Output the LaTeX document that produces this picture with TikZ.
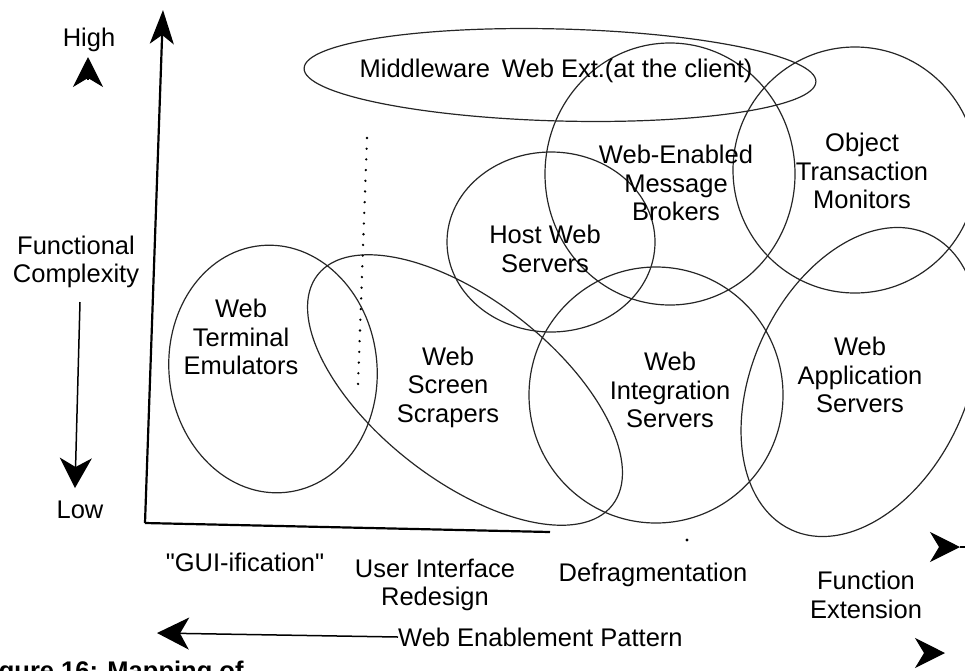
\documentclass[tikz,border=0pt]{standalone}
\usepackage{fontspec}
\setmainfont{Liberation Sans}
\usetikzlibrary{shapes.geometric,arrows.meta}
% straight double quote glyph, bypassing the TeX ligature mapping
\newcommand{\sq}{\XeTeXglyph\XeTeXcharglyph34\relax}
\begin{document}
\begin{tikzpicture}[x=1pt,y=-1pt,
  blob/.style n args={2}{draw=black!85, ellipse, line width=1.2pt, inner sep=0pt,
    minimum width=#1, minimum height=#2},
  lbl/.style={font=\fontsize{25.5}{28.5}\selectfont, align=center, inner sep=0pt},
  axis/.style={line width=2.2pt, draw=black},
  bigtip/.style={-{Stealth[length=30pt,width=30pt,inset=9pt]}, line width=1.2pt}
]
\useasboundingbox (0,0) rectangle (965,670);
\clip (0,0) rectangle (965,670);

% ---- axes ----
\coordinate (org) at (145,523);
\coordinate (ytop) at (163,10);
\coordinate (xend) at (550,532);
\draw[axis, -{Stealth[length=34pt,width=24pt,inset=9pt]}] (org) -- (ytop);
\draw[axis] (org) -- (xend);
\coordinate (xa) at (945,547);
\coordinate (xb) at (960,547);
\coordinate (xc) at (965,547);
\draw[bigtip] (xa) -- (xb);
\draw[line width=1.5pt] (xb) -- (xc);
\fill (687,540) circle (1.6pt);

% ---- vertical scale on the left ----
\node[lbl] (high) at (89,40) {High};
\coordinate (hA) at (88,80);
\coordinate (hB) at (88,57);
\draw[bigtip] (hA) -- (hB);
\node[lbl] (fc) at (76,262) {Functional\\Complexity};
\coordinate (lowtip) at (75,488);
\coordinate (lowtop) at (80,302);
\draw[line width=1.5pt, -{Stealth[length=30pt,width=32pt,inset=9pt]}] (lowtop) -- (lowtip);
\node[lbl] (low) at (80,510) {Low};

% ---- overlapping regions ----
\node[blob={512}{92}, rotate=-1.5] (mw)  at (560,75) {};
\node[blob={208}{248}, rotate=6] (wte) at (273,369) {};
\node[blob={374}{180}, rotate=-38] (wss) at (465,390) {};
\node[blob={208}{180}] (hws) at (551,242) {};
\node[blob={250}{262}] (wemb) at (670,174) {};
\node[blob={244}{246}] (otm) at (855,170) {};
\node[blob={254}{256}] (wis) at (656,395) {};
\node[blob={326}{214}, rotate=65] (was) at (860,382) {};

% dotted divider
\coordinate (dA) at (367,138);
\coordinate (dB) at (358,385);
\draw[line width=2.6pt, line cap=round, dash pattern=on 0pt off 10.7pt] (dA) -- (dB);

% ---- region labels ----
\node[lbl] (tmw) at (556,71) {Middleware\hspace{12pt}Web Ext.(at the client)};
\node[lbl] (twte) at (241,337) {Web\\Terminal\\Emulators};
\node[lbl] (twss) at (448,387) {Web\\Screen\\Scrapers};
\node[lbl] (thws) at (545,249) {Host Web\\Servers};
\node[lbl] (twemb) at (676,183) {Web-Enabled\\Message\\Brokers};
\node[lbl] (totm) at (862,171) {Object\\Transaction\\Monitors};
\node[lbl] (twis) at (670,390) {Web\\Integration\\Servers};
\node[lbl] (twas) at (860,375) {Web\\Application\\Servers};

% ---- patterns along the horizontal axis ----
\node[lbl] (p1) at (245,562) {\sq GUI-ification\sq};
\node[lbl] (p2) at (435,585) {User Interface\\Redesign};
\node[lbl] (p3) at (653,575) {Defragmentation};
\node[lbl] (p4) at (866,595) {Function\\Extension};

\node[lbl, anchor=west] (pat) at (398,637) {Web Enablement Pattern};
\coordinate (pl) at (157,633);
\draw[line width=1.5pt, -{Stealth[length=32pt,width=32pt,inset=9pt]}] (pat.west) -- (pl);
\coordinate (prA) at (925,653);
\coordinate (prB) at (945,653);
\draw[bigtip] (prA) -- (prB);

% caption
\node[lbl, anchor=north west] (cap) at (-24,661) {\textbf{Figure 16: Mapping of}};
\end{tikzpicture}
\end{document}
